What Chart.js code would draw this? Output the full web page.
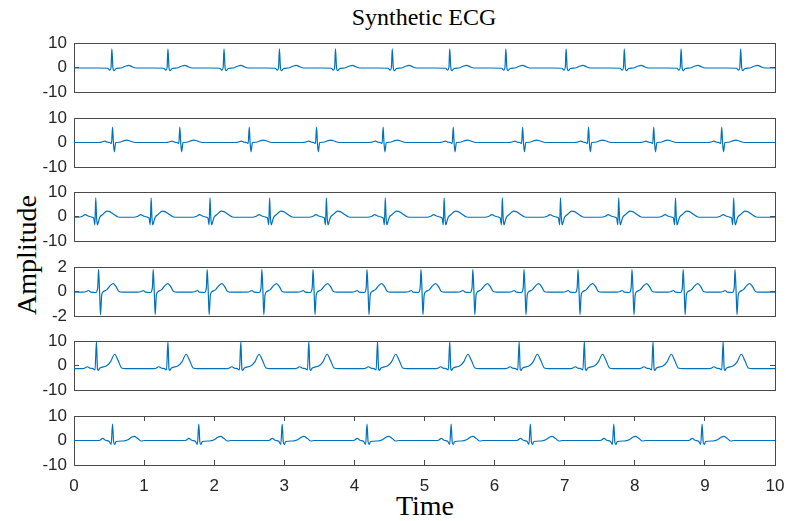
<!DOCTYPE html>
<html>
<head>
<meta charset="utf-8">
<title>Synthetic ECG</title>
<script src="https://cdn.jsdelivr.net/npm/chart.js@4/dist/chart.umd.min.js"></script>
<style>
  body { margin: 0; background: #fff; }
  #wrap { position: relative; width: 786px; height: 521px; overflow: hidden; }
  .row { position: absolute; left: 0; width: 786px; }
  .lbl { position: absolute; font-family: "Liberation Serif", "Times New Roman", serif; color: #000; text-align: center; white-space: nowrap; }
</style>
</head>
<body>
<div id="wrap">
  <div class="lbl" style="left:224px; top:3px; width:400px; font-size:24px; line-height:28px;">Synthetic ECG</div>
  <div class="lbl" style="left:-73px; top:239px; width:200px; height:32px; font-size:28px; line-height:32px; transform:rotate(-90deg);">Amplitude</div>
  <div class="lbl" style="left:225px; top:491px; width:400px; font-size:28px; line-height:30px;">Time</div>
</div>
<script>
// R-peak times (s) for each trace
var rPeaks1 = [0.54, 1.34, 2.14, 2.93, 3.73, 4.54, 5.36, 6.16, 7.02, 7.85, 8.66, 9.51];
var rPeaks2 = [0.55, 1.51, 2.50, 3.46, 4.41, 5.41, 6.40, 7.34, 8.27, 9.24];
var rPeaks3 = [0.31, 1.10, 1.94, 2.79, 3.60, 4.44, 5.28, 6.11, 6.94, 7.77, 8.58, 9.41];
var rPeaks4 = [0.35, 1.13, 1.90, 2.68, 3.41, 4.18, 4.95, 5.69, 6.42, 7.19, 7.96, 8.69, 9.43];
var rPeaks5 = [0.32, 1.34, 2.38, 3.35, 4.33, 5.36, 6.35, 7.28, 8.26, 9.26];
var rPeaks6 = [0.55, 1.78, 2.97, 4.18, 5.38, 6.51, 7.70, 8.96];

// one beat per trace: [time from R peak, amplitude]
var beat1 = [[-0.2,-0.2],[-0.06,-0.3],[-0.03,-1.1],[-0.012,0],[0,7.6],[0.015,0],[0.03,-1.3],[0.06,-0.4],[0.13,-0.2],[0.19,0.5],[0.24,0.9],[0.29,0.3],[0.34,-0.2]];
var beat2 = [[-0.2,0],[-0.15,0.2],[-0.11,0.6],[-0.07,0.1],[-0.04,0],[-0.015,-0.4],[0,6.3],[0.012,0],[0.025,-3.8],[0.045,0],[0.1,0.1],[0.15,0.6],[0.2,1.0],[0.26,0.5],[0.32,0],[0.4,0]];
var beat3 = [[-0.25,-0.3],[-0.19,0.1],[-0.15,0.8],[-0.11,0.2],[-0.06,-0.2],[-0.03,-0.6],[-0.012,-3.4],[0,7.6],[0.012,-0.5],[0.025,-3.4],[0.04,-2.0],[0.06,-0.2],[0.1,0.8],[0.16,2.2],[0.2,2.0],[0.26,0.8],[0.32,-0.2],[0.38,-0.3]];
var beat4 = [[-0.22,-0.05],[-0.17,0],[-0.14,0.08],[-0.11,-0.05],[-0.04,-0.08],[-0.012,0.3],[0,1.8],[0.015,0],[0.028,-1.9],[0.045,-0.3],[0.07,0],[0.12,0.15],[0.17,0.5],[0.21,0.65],[0.25,0.4],[0.29,0],[0.34,-0.05]];
var beat5 = [[-0.22,-1.3],[-0.17,-1.1],[-0.13,-0.5],[-0.09,-1.1],[-0.05,-1.3],[-0.02,-1.8],[0,9.8],[0.015,-1.5],[0.025,-2.0],[0.05,-1.0],[0.14,-0.2],[0.2,1.5],[0.26,4.6],[0.31,2.0],[0.36,-1.0],[0.42,-1.3]];
var beat6 = [[-0.22,0],[-0.18,0.1],[-0.14,0.9],[-0.1,0.1],[-0.05,-0.3],[-0.02,-1.6],[0,6.7],[0.015,-0.5],[0.03,-1.6],[0.05,-0.4],[0.15,-0.2],[0.22,0.3],[0.27,1.3],[0.31,1.7],[0.36,0.8],[0.41,-0.2],[0.46,0]];

var baselines = [-0.2, 0, -0.3, -0.05, -1.3, 0];
var yLimits = [10, 10, 10, 2, 10, 10];
var timeTicks = [0, 1, 2, 3, 4, 5, 6, 7, 8, 9, 10];

var peaks = [rPeaks1, rPeaks2, rPeaks3, rPeaks4, rPeaks5, rPeaks6];
var beats = [beat1, beat2, beat3, beat4, beat5, beat6];
var plotTops = [43, 118, 192, 267, 341, 416];
var plotH = 49;
var PAD = 14;

function buildTrace(rs, shape, base) {
  var pts = [{x: 0, y: base}];
  rs.forEach(function(r) {
    shape.forEach(function(p) {
      var t = r + p[0];
      if (t > 0 && t < 10) pts.push({x: t, y: p[1]});
    });
  });
  pts.push({x: 10, y: base});
  return pts;
}

var axisColor = '#4a4a4a';
var tickFont = {family: '"Liberation Sans", Arial, sans-serif', size: 17};

// pin the axis box size and drop the label overhang padding
function fixSize(prop, v) {
  return function(scale) {
    scale[prop] = v;
    scale.paddingTop = scale.paddingBottom = 0;
    scale.paddingLeft = scale.paddingRight = 0;
  };
}

function timeTickList(s) {
  s.ticks = timeTicks.map(function(v) { return {value: v}; });
}

var wrap = document.getElementById('wrap');
for (var i = 0; i < 6; i++) {
  var last = (i === 5);
  var bottomH = last ? 42 : PAD;
  var div = document.createElement('div');
  div.className = 'row';
  div.style.top = (plotTops[i] - PAD) + 'px';
  div.style.height = (plotH + PAD + bottomH) + 'px';
  var cv = document.createElement('canvas');
  cv.width = 786;
  cv.height = plotH + PAD + bottomH;
  div.appendChild(cv);
  wrap.appendChild(div);

  var lim = yLimits[i];
  var xGrid = {drawOnChartArea: false, drawTicks: last, tickLength: -5, color: axisColor, lineWidth: 1};
  var yGrid = {drawOnChartArea: false, drawTicks: true, tickLength: -5, color: axisColor, lineWidth: 1};
  var border = {display: true, color: axisColor, width: 1};

  new Chart(cv, {
    type: 'line',
    data: {
      datasets: [{
        data: buildTrace(peaks[i], beats[i], baselines[i]),
        borderColor: '#0072BD',
        borderWidth: 1.2,
        pointRadius: 0,
        cubicInterpolationMode: 'monotone',
        fill: false
      }]
    },
    options: {
      responsive: false,
      animation: false,
      events: [],
      layout: {padding: 0},
      plugins: {legend: {display: false}, tooltip: {enabled: false}},
      scales: {
        x: {
          type: 'linear', position: 'bottom', min: 0, max: 10,
          grid: xGrid, border: border,
          afterBuildTicks: timeTickList,
          ticks: {display: last, color: '#262626', font: tickFont, padding: 16, maxRotation: 0, autoSkip: false},
          afterFit: fixSize('height', bottomH)
        },
        xTop: {
          type: 'linear', axis: 'x', position: 'top', min: 0, max: 10,
          grid: xGrid, border: border,
          afterBuildTicks: timeTickList,
          ticks: {display: false},
          afterFit: fixSize('height', PAD)
        },
        y: {
          type: 'linear', position: 'left', min: -lim, max: lim,
          grid: yGrid, border: border,
          ticks: {stepSize: lim, autoSkip: false, color: '#262626', font: tickFont, padding: 12},
          afterFit: fixSize('width', 74)
        },
        yRight: {
          type: 'linear', axis: 'y', position: 'right', min: -lim, max: lim,
          grid: yGrid, border: border,
          ticks: {stepSize: lim, autoSkip: false, display: false},
          afterFit: fixSize('width', 11)
        }
      }
    }
  });
}
</script>
</body>
</html>
